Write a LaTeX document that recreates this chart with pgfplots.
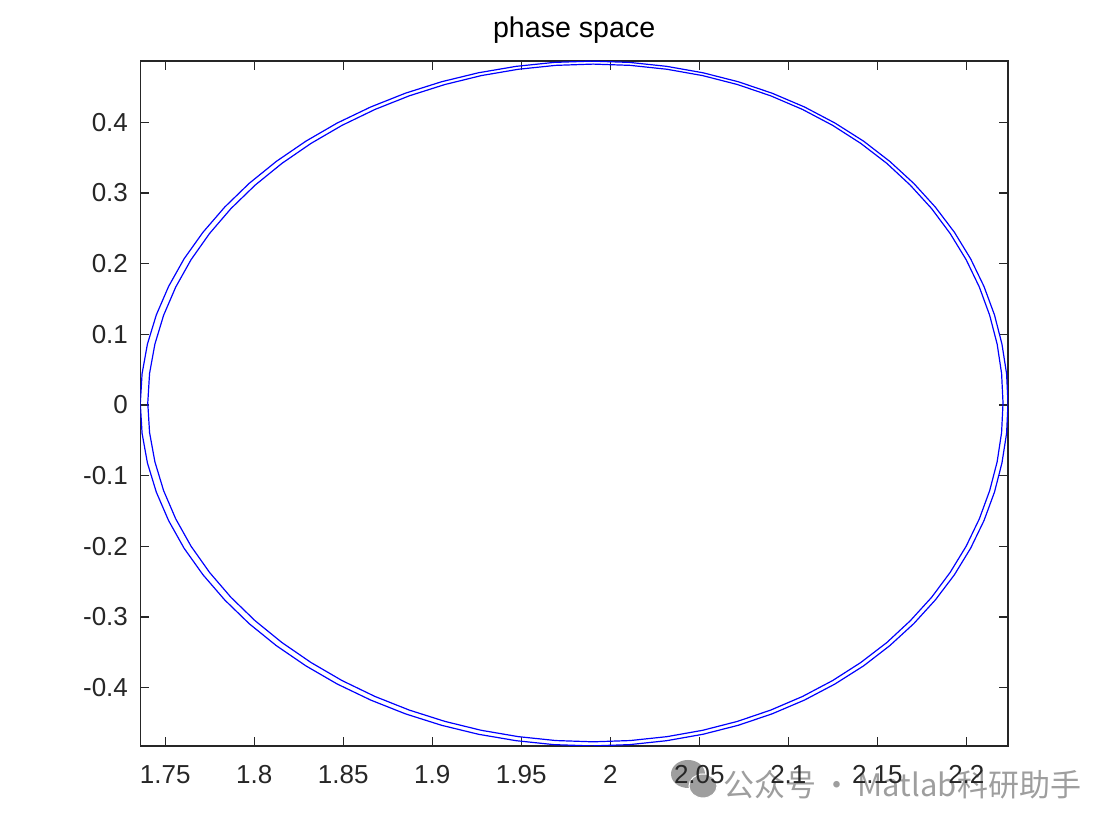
\documentclass[border=0pt]{standalone}
\usepackage{fontspec}
\setmainfont{Liberation Sans}
\newfontfamily\cjk{Noto Sans CJK SC}
\usepackage{pgfplots}
\pgfplotsset{compat=1.18}
\definecolor{axgray}{gray}{0.15}
\definecolor{wmgray}{gray}{0.62}
\begin{document}
\begin{tikzpicture}
\path[use as bounding box] (0,0) rectangle (555pt,416.5pt);
% watermark (drawn first, under the chart)
\fill[wmgray] (344pt,29.5pt) ellipse (8.5pt and 7pt);
\fill[wmgray] (351.5pt,23.5pt) ellipse (7pt and 6pt);
\draw[white, line width=0.5pt] (351.5pt,23.5pt) ellipse (7pt and 6pt);
\node[anchor=base west, inner sep=0pt, text=wmgray, font=\fontsize{15.5}{15.5}\selectfont] at (361.5pt,18pt) {\cjk 公众号\,·\,Matlab科研助手};
\begin{axis}[
  at={(70.15pt,43.5pt)}, anchor=south west,
  scale only axis, width=433.85pt, height=342.5pt,
  xmin=1.7360, xmax=2.2234, ymin=-0.4826, ymax=0.4867,
  axis line style={axgray, line width=0.6pt},
  tick style={axgray, line width=0.6pt},
  tick align=inside, major tick length=4.5pt,
  xtick={1.75,1.8,1.85,1.9,1.95,2,2.05,2.1,2.15,2.2},
  xticklabels={1.75,1.8,1.85,1.9,1.95,2,2.05,2.1,2.15,2.2},
  ytick={-0.4,-0.3,-0.2,-0.1,0,0.1,0.2,0.3,0.4},
  yticklabels={-0.4,-0.3,-0.2,-0.1,0,0.1,0.2,0.3,0.4},
  ticklabel style={font=\fontsize{13}{13}\selectfont, text=axgray, inner sep=0pt},
  xticklabel style={anchor=north, yshift=-9.5pt},
  yticklabel style={anchor=east, xshift=-6pt},
  /pgf/number format/assume math mode=true,
  title={phase space},
  title style={at={(0.5,1)}, anchor=base, yshift=5.5pt, inner sep=0pt, font=\fontsize{14.3}{14.3}\selectfont, text=black},
]
\addplot[blue, line width=0.6pt] coordinates {
(2.2234,0.0020) (2.2226,0.0442) (2.2200,0.0861) (2.2158,0.1274) (2.2099,0.1677) (2.2024,0.2068)
(2.1933,0.2443) (2.1826,0.2799) (2.1705,0.3134) (2.1570,0.3446) (2.1423,0.3732) (2.1262,0.3989)
(2.1091,0.4216) (2.0909,0.4411) (2.0719,0.4573) (2.0521,0.4700) (2.0317,0.4791) (2.0108,0.4847)
(1.9897,0.4865) (1.9684,0.4847) (1.9471,0.4791) (1.9259,0.4700) (1.9052,0.4573) (1.8849,0.4411)
(1.8654,0.4216) (1.8466,0.3989) (1.8290,0.3732) (1.8124,0.3446) (1.7971,0.3134) (1.7834,0.2799)
(1.7712,0.2443) (1.7606,0.2068) (1.7519,0.1677) (1.7450,0.1274) (1.7400,0.0861) (1.7370,0.0442)
(1.7360,0.0020) (1.7370,-0.0402) (1.7400,-0.0821) (1.7450,-0.1234) (1.7519,-0.1637) (1.7606,-0.2028)
(1.7712,-0.2403) (1.7834,-0.2759) (1.7971,-0.3094) (1.8124,-0.3406) (1.8290,-0.3692) (1.8466,-0.3949)
(1.8654,-0.4176) (1.8849,-0.4371) (1.9052,-0.4533) (1.9259,-0.4660) (1.9471,-0.4751) (1.9684,-0.4807)
(1.9897,-0.4825) (2.0108,-0.4807) (2.0317,-0.4751) (2.0521,-0.4660) (2.0719,-0.4533) (2.0909,-0.4371)
(2.1091,-0.4176) (2.1262,-0.3949) (2.1423,-0.3692) (2.1570,-0.3406) (2.1705,-0.3094) (2.1826,-0.2759)
(2.1933,-0.2403) (2.2024,-0.2028) (2.2099,-0.1637) (2.2158,-0.1234) (2.2200,-0.0821) (2.2226,-0.0402)
(2.2234,0.0020)
};
\addplot[blue, line width=0.6pt] coordinates {
(2.2206,0.0028) (2.2198,0.0446) (2.2173,0.0861) (2.2131,0.1269) (2.2073,0.1668) (2.1999,0.2055)
(2.1909,0.2426) (2.1805,0.2778) (2.1685,0.3110) (2.1553,0.3419) (2.1407,0.3701) (2.1249,0.3956)
(2.1080,0.4181) (2.0901,0.4374) (2.0714,0.4534) (2.0519,0.4660) (2.0318,0.4750) (2.0112,0.4805)
(1.9904,0.4823) (1.9694,0.4805) (1.9484,0.4750) (1.9275,0.4660) (1.9071,0.4534) (1.8871,0.4374)
(1.8678,0.4181) (1.8493,0.3956) (1.8319,0.3701) (1.8156,0.3419) (1.8005,0.3110) (1.7869,0.2778)
(1.7749,0.2426) (1.7645,0.2055) (1.7559,0.1668) (1.7491,0.1269) (1.7442,0.0861) (1.7412,0.0446)
(1.7402,0.0028) (1.7412,-0.0390) (1.7442,-0.0805) (1.7491,-0.1213) (1.7559,-0.1612) (1.7645,-0.1999)
(1.7749,-0.2370) (1.7869,-0.2722) (1.8005,-0.3054) (1.8156,-0.3363) (1.8319,-0.3645) (1.8493,-0.3900)
(1.8678,-0.4125) (1.8871,-0.4318) (1.9071,-0.4478) (1.9275,-0.4604) (1.9484,-0.4694) (1.9694,-0.4749)
(1.9904,-0.4767) (2.0112,-0.4749) (2.0318,-0.4694) (2.0519,-0.4604) (2.0714,-0.4478) (2.0901,-0.4318)
(2.1080,-0.4125) (2.1249,-0.3900) (2.1407,-0.3645) (2.1553,-0.3363) (2.1685,-0.3054) (2.1805,-0.2722)
(2.1909,-0.2370) (2.1999,-0.1999) (2.2073,-0.1612) (2.2131,-0.1213) (2.2173,-0.0805) (2.2198,-0.0390)
(2.2206,0.0028)
};
\end{axis}
\end{tikzpicture}
\end{document}
